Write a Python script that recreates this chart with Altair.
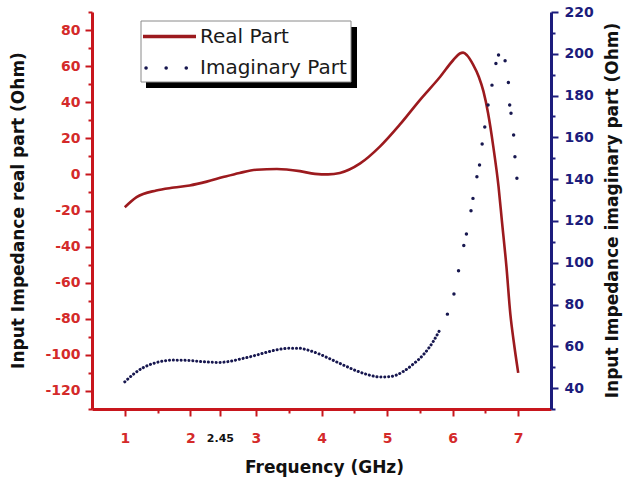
import altair as alt
import pandas as pd

# ---- data ----
freq_real = [1.0, 1.18, 1.48, 1.75, 1.99, 2.25, 2.5, 2.75, 3.01, 3.32, 3.67, 3.9, 4.1, 4.28, 4.59,
             4.89, 5.19, 5.5, 5.81, 6.01, 6.11, 6.16, 6.22, 6.31, 6.4, 6.47, 6.54, 6.62, 6.7, 6.75,
             6.82, 6.88, 6.93, 7.0]
real_part = [-18.2, -12.6, -8.9, -7.3, -6.1, -4.0, -1.5, 0.8, 2.6, 3.0, 1.8, 0.3, 0.0, 0.8, 6.1,
             15.4, 27.4, 41.2, 54.1, 63.4, 67.0, 67.5, 66.0, 61.0, 54.0, 46.0, 34.0, 15.4, -6.8, -25.3,
             -51.0, -77.4, -92.2, -110.0]

freq_imag_dense = [1.0, 1.13, 1.28, 1.48, 1.74, 1.99, 2.2, 2.43, 2.6, 2.76, 2.95, 3.11, 3.3, 3.52,
                   3.65, 3.78, 3.95, 4.13, 4.35, 4.54, 4.72, 4.9, 5.05, 5.25, 5.4, 5.56, 5.71, 5.81]
imag_dense = [43.0, 46.6, 49.8, 52.2, 53.4, 53.2, 52.6, 52.3, 52.8, 53.9, 55.3, 56.7, 58.2, 59.1,
              59.1, 58.3, 56.5, 54.0, 50.8, 48.2, 46.3, 45.3, 45.5, 48.0, 51.5, 56.2, 62.6, 68.2]

freq_imag_peak = [5.92, 6.02, 6.09, 6.17, 6.21, 6.28, 6.31, 6.37, 6.41, 6.45, 6.49, 6.54, 6.6, 6.66,
                  6.7, 6.8, 6.85, 6.87, 6.89, 6.93, 6.95, 6.98]
imag_peak = [75.4, 85.0, 96.2, 108.2, 113.8, 124.9, 130.8, 141.2, 146.8, 156.8, 165.0, 175.5, 185.0, 195.4,
             199.4, 196.7, 186.3, 175.5, 171.5, 161.1, 150.7, 140.4]

x_ticks = [1, 1.5, 2, 2.45, 3, 3.5, 4, 4.5, 5, 5.5, 6, 6.5, 7]
left_ticks = list(range(-130, 91, 10))
right_ticks = list(range(30, 221, 10))

RED_AXIS = "#c8161d"
RED_LABEL = "#d42a2a"
RED_LINE = "#9c1a1e"
NAVY = "#1c1c7c"
DOT = "#17174f"
FONT = "DejaVu Sans"

real_df = pd.DataFrame({"freq": freq_real, "value": real_part})
dense_df = pd.DataFrame({"freq": freq_imag_dense, "value": imag_dense})
peak_df = pd.DataFrame({"freq": freq_imag_peak, "value": imag_peak})

x_scale = alt.Scale(domain=[0.5, 7.5], nice=False, zero=False)
x_axis = alt.Axis(
    values=x_ticks,
    labelExpr="datum.value == 2.45 ? '2.45' : (datum.value % 1 == 0 ? toString(datum.value) : '')",
    labelColor={"condition": {"test": "datum.value == 2.45", "value": "#111111"}, "value": RED_LABEL},
    labelFontSize={"condition": {"test": "datum.value == 2.45", "value": 11}, "value": 14},
    labelPadding={"condition": {"test": "datum.value == 2.45", "value": 16}, "value": 15},
    tickSize={"condition": {"test": "datum.value % 1 == 0 || datum.value == 2.45", "value": 7}, "value": 4},
    labelFont=FONT, labelFontWeight="bold", labelOverlap=False, labelFlush=False,
    domainColor=RED_AXIS, domainWidth=3, tickColor=RED_AXIS, tickWidth=2, grid=False,
    title="Frequency (GHz)", titleFont=FONT, titleFontWeight="bold", titleFontSize=17,
    titleColor="#111111", titleX=232, titleY=58, titleBaseline="middle", titleAlign="center",
)
left_axis = alt.Axis(
    values=left_ticks, orient="left",
    labelExpr="datum.value % 20 == 0 ? toString(datum.value) : ''",
    tickSize={"condition": {"test": "datum.value % 20 == 0", "value": 7}, "value": 4},
    labelFont=FONT, labelFontWeight="bold", labelFontSize=14, labelColor=RED_LABEL,
    labelPadding=5, labelOverlap=False, labelFlush=False,
    domainColor=RED_AXIS, domainWidth=3, tickColor=RED_AXIS, tickWidth=2, grid=False,
    title="Input Impedance real part (Ohm)", titleFont=FONT, titleFontWeight="bold", titleFontSize=17,
    titleColor="#111111", titleX=-74, titleY=198, titleAngle=270, titleAlign="center", titleBaseline="middle",
)
right_axis = alt.Axis(
    values=right_ticks, orient="right",
    labelExpr="datum.value % 20 == 0 ? toString(datum.value) : ''",
    tickSize={"condition": {"test": "datum.value % 20 == 0", "value": 7}, "value": 4},
    labelFont=FONT, labelFontWeight="bold", labelFontSize=14, labelColor=NAVY,
    labelPadding=6, labelOverlap=False, labelFlush=False,
    domainColor=NAVY, domainWidth=3, tickColor=NAVY, tickWidth=2, grid=False,
    title="Input Impedance imaginary part (Ohm)", titleFont=FONT, titleFontWeight="bold", titleFontSize=17,
    titleColor="#111111", titleX=61, titleY=198, titleAngle=270, titleAlign="center", titleBaseline="middle",
)

left_scale = alt.Scale(domain=[-130, 90], nice=False, zero=False)
right_scale = alt.Scale(domain=[30, 220], nice=False, zero=False)

real = alt.Chart(real_df).mark_line(color=RED_LINE, strokeWidth=2.6, interpolate="monotone").encode(
    x=alt.X("freq:Q", scale=x_scale, axis=x_axis),
    y=alt.Y("value:Q", scale=left_scale, axis=left_axis),
)
imag_line = alt.Chart(dense_df).mark_line(
    stroke=DOT, strokeWidth=3.0, strokeDash=[0.1, 3.8], strokeCap="round", interpolate="monotone"
).encode(
    x=alt.X("freq:Q", scale=x_scale, axis=x_axis),
    y=alt.Y("value:Q", scale=right_scale, axis=right_axis),
)
imag_pts = alt.Chart(peak_df).mark_circle(color=DOT, size=12, opacity=1).encode(
    x=alt.X("freq:Q", scale=x_scale, axis=x_axis),
    y=alt.Y("value:Q", scale=right_scale, axis=right_axis),
)
imag = alt.layer(imag_line, imag_pts)
core = alt.layer(real, imag).resolve_scale(y="independent")

# ---- legend box drawn as decoration ----
lb = alt.Chart(alt.Data(values=[{}]))
shadow = lb.mark_rect(color="#000000").encode(
    x=alt.value(54), x2=alt.value(265), y=alt.value(15), y2=alt.value(76))
box = lb.mark_rect(fill="white", stroke="#8a8a8a", strokeWidth=1).encode(
    x=alt.value(49), x2=alt.value(259), y=alt.value(9), y2=alt.value(70))
leg_line = lb.mark_rule(color=RED_LINE, strokeWidth=3.5).encode(
    x=alt.value(51), x2=alt.value(104), y=alt.value(24.5))
leg_dots = lb.mark_rule(color=DOT, strokeWidth=3.5, strokeDash=[0.1, 20], strokeCap="round").encode(
    x=alt.value(54), x2=alt.value(96), y=alt.value(56))
leg_t1 = lb.mark_text(text="Real Part", align="left", baseline="middle", font=FONT, fontSize=20,
                      color="#1a1a1a").encode(x=alt.value(108), y=alt.value(25))
leg_t2 = lb.mark_text(text="Imaginary Part", align="left", baseline="middle", font=FONT, fontSize=20,
                      color="#1a1a1a").encode(x=alt.value(108), y=alt.value(56))

chart = alt.layer(core, shadow, box, leg_line, leg_dots, leg_t1, leg_t2).properties(
    width=459, height=397,
    autosize=alt.AutoSizeParams(type="none"),
    padding={"left": 92, "top": 12, "right": 72, "bottom": 77},
    background="white",
).configure_view(stroke=None)

chart.save("out.html", embed_options={"renderer": "svg", "actions": False})
